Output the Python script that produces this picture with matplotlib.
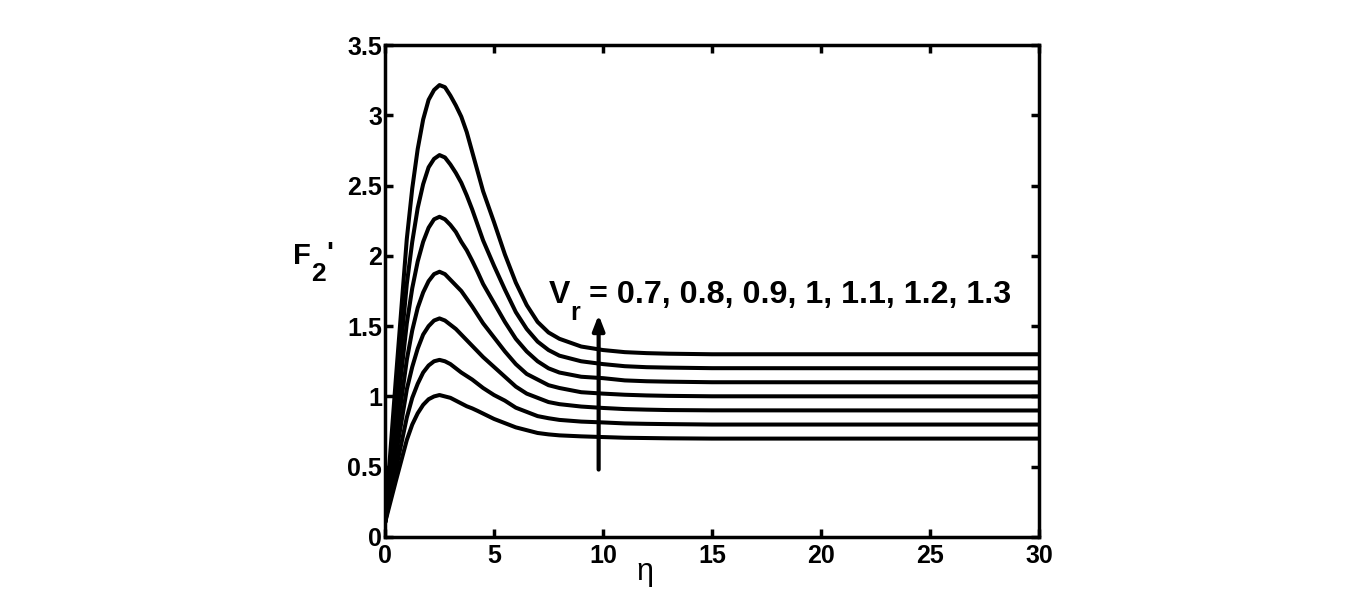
import matplotlib
matplotlib.use('Agg')
import matplotlib.pyplot as plt
from matplotlib.ticker import FormatStrFormatter

plt.rcParams['font.family'] = ['Liberation Sans', 'DejaVu Sans']

# eta grid shared by all curves
eta = [0, 0.5, 1, 1.25, 1.5, 1.75, 2, 2.25, 2.5, 2.75, 3, 3.25, 3.5, 3.75, 4,
       4.25, 4.5, 5, 5.5, 6, 6.5, 7, 7.5, 8, 9, 10, 11, 12, 13, 15, 30]

# F2' profiles, Vr = 0.7 ... 1.3
f_07 = [0.1, 0.40, 0.69, 0.80, 0.88, 0.94, 0.98, 1.00, 1.01, 1.00, 0.99, 0.97,
        0.95, 0.93, 0.915, 0.897, 0.878, 0.84, 0.81, 0.78, 0.76, 0.74, 0.73, 0.723,
        0.716, 0.711, 0.706, 0.704, 0.702, 0.70, 0.70]
f_08 = [0.1, 0.48, 0.85, 0.99, 1.09, 1.17, 1.22, 1.25, 1.26, 1.25, 1.23, 1.20,
        1.17, 1.145, 1.12, 1.09, 1.06, 1.01, 0.97, 0.92, 0.89, 0.86, 0.845, 0.833,
        0.821, 0.815, 0.808, 0.805, 0.803, 0.80, 0.80]
f_09 = [0.1, 0.58, 1.05, 1.21, 1.34, 1.44, 1.50, 1.54, 1.555, 1.54, 1.51, 1.48,
        1.44, 1.40, 1.36, 1.32, 1.28, 1.21, 1.14, 1.07, 1.02, 0.99, 0.96, 0.945,
        0.928, 0.918, 0.91, 0.906, 0.903, 0.901, 0.90]
f_10 = [0.1, 0.69, 1.26, 1.47, 1.63, 1.74, 1.82, 1.87, 1.887, 1.87, 1.83, 1.79,
        1.75, 1.695, 1.64, 1.58, 1.52, 1.42, 1.32, 1.23, 1.16, 1.12, 1.08, 1.06,
        1.03, 1.02, 1.012, 1.007, 1.004, 1.001, 1.0]
f_11 = [0.1, 0.82, 1.52, 1.77, 1.96, 2.10, 2.20, 2.26, 2.278, 2.26, 2.22, 2.17,
        2.10, 2.04, 1.965, 1.885, 1.80, 1.665, 1.53, 1.41, 1.32, 1.25, 1.20, 1.17,
        1.14, 1.13, 1.114, 1.108, 1.105, 1.101, 1.1]
f_12 = [0.1, 0.96, 1.80, 2.10, 2.34, 2.51, 2.63, 2.69, 2.717, 2.70, 2.65, 2.59,
        2.52, 2.43, 2.33, 2.22, 2.11, 1.93, 1.76, 1.60, 1.48, 1.39, 1.33, 1.29,
        1.25, 1.23, 1.215, 1.208, 1.205, 1.201, 1.2]
f_13 = [0.1, 1.13, 2.12, 2.48, 2.76, 2.97, 3.11, 3.18, 3.215, 3.20, 3.14, 3.07,
        2.99, 2.88, 2.74, 2.60, 2.46, 2.24, 2.01, 1.81, 1.65, 1.53, 1.455, 1.41,
        1.355, 1.33, 1.315, 1.308, 1.304, 1.30, 1.30]

curves = [f_07, f_08, f_09, f_10, f_11, f_12, f_13]

W, H = 1366, 604
fig = plt.figure(figsize=(W / 100, H / 100), dpi=100)
ax = fig.add_axes([385 / W, 1 - 537 / H, 654 / W, 492 / H])

for f in curves:
    ax.plot(eta, f, color='black', linewidth=2.9, solid_joinstyle='round')

ax.set_xlim(0, 30)
ax.set_ylim(0, 3.5)
ax.set_xticks(range(0, 31, 5))
ax.set_yticks([0, 0.5, 1, 1.5, 2, 2.5, 3, 3.5])
ax.yaxis.set_major_formatter(FormatStrFormatter('%g'))
ax.tick_params(direction='in', length=6, width=2.5, top=True, right=True,
               labelsize=18)
ax.tick_params(axis='x', pad=5)
ax.tick_params(axis='y', pad=2)
for lbl in ax.get_xticklabels() + ax.get_yticklabels():
    lbl.set_fontweight('bold')
for sp in ax.spines.values():
    sp.set_linewidth(2.5)

# x label (MATLAB put it left of centre)
fig.text(645 / W, 1 - 572 / H, '\u03b7', fontsize=22, ha='center', va='center')

# y label F2'
fig.text(293 / W, 1 - 264 / H, 'F', fontsize=21, fontweight='bold',
         ha='left', va='baseline')
fig.text(311 / W, 1 - 281 / H, '2', fontsize=19, fontweight='bold',
         ha='left', va='baseline')
fig.text(326 / W, 1 - 262 / H, "'", fontsize=21, fontweight='bold',
         ha='left', va='baseline')

# annotation arrow and text
ax.annotate('', xy=(9.8, 1.6), xytext=(9.8, 0.46),
            arrowprops=dict(arrowstyle='-|>,head_width=0.35,head_length=0.9',
                            color='black', linewidth=3))
fig.text(549 / W, 1 - 303 / H, 'V', fontsize=23, fontweight='bold',
         ha='left', va='baseline')
fig.text(570 / W, 1 - 320 / H, 'r', fontsize=18, fontweight='bold',
         ha='left', va='baseline')
fig.text(589 / W, 1 - 303 / H, '= 0.7, 0.8, 0.9, 1, 1.1, 1.2, 1.3',
         fontsize=23.2, fontweight='bold', ha='left', va='baseline')

fig.savefig('out.png', dpi=100, facecolor='white')
plt.close(fig)
